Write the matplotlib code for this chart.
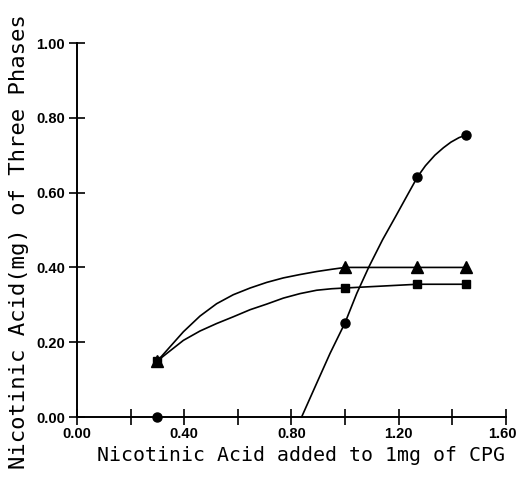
import matplotlib
matplotlib.use("Agg")
import matplotlib.pyplot as plt
from matplotlib.transforms import ScaledTranslation

# measured points (mg nicotinic acid added per 1 mg CPG)
added = [0.30, 1.00, 1.27, 1.45]
phase_circle = [0.00, 0.252, 0.643, 0.754]
phase_triangle = [0.15, 0.40, 0.40, 0.40]
phase_square = [0.15, 0.345, 0.355, 0.355]

# hand-drawn fitted curves
circle_curve_x = [0.838, 0.894, 0.944, 1.00, 1.044, 1.09, 1.14, 1.19, 1.23,
                  1.271, 1.30, 1.335, 1.367, 1.395, 1.425, 1.451]
circle_curve_y = [0.00, 0.09, 0.17, 0.252, 0.331, 0.403, 0.474, 0.538, 0.590,
                  0.643, 0.672, 0.700, 0.720, 0.735, 0.747, 0.754]
triangle_curve_x = [0.30, 0.335, 0.397, 0.459, 0.521, 0.583, 0.646, 0.708, 0.770,
                    0.832, 0.894, 0.95, 1.00, 1.27, 1.45]
triangle_curve_y = [0.150, 0.178, 0.228, 0.270, 0.303, 0.327, 0.345, 0.360, 0.372,
                    0.381, 0.389, 0.395, 0.400, 0.400, 0.400]
square_curve_x = [0.30, 0.335, 0.397, 0.459, 0.521, 0.583, 0.646, 0.708, 0.770,
                  0.832, 0.894, 0.95, 1.00, 1.27, 1.45]
square_curve_y = [0.150, 0.170, 0.205, 0.230, 0.250, 0.268, 0.287, 0.302, 0.318,
                  0.330, 0.339, 0.343, 0.345, 0.355, 0.355]

x_ticks = [0.0, 0.2, 0.4, 0.6, 0.8, 1.0, 1.2, 1.4, 1.6]
x_ticklabels = ["0.00", "", "0.40", "", "0.80", "", "1.20", "", "1.60"]
y_ticks = [0.0, 0.2, 0.4, 0.6, 0.8, 1.0]
y_ticklabels = ["0.00", "0.20", "0.40", "0.60", "0.80", "1.00"]

tick_font = dict(family="Liberation Sans", weight="bold", size=10.5)

fig = plt.figure(figsize=(5.18, 4.83), dpi=100)
ax = fig.add_axes([0.1486, 0.1366, 0.828, 0.7743])

lw = 1.2
ax.plot(circle_curve_x, circle_curve_y, color="k", lw=lw, clip_on=False)
ax.plot(triangle_curve_x, triangle_curve_y, color="k", lw=lw, clip_on=False)
ax.plot(square_curve_x, square_curve_y, color="k", lw=lw, clip_on=False)

ax.plot(added, phase_circle, "o", color="k", ms=6.5, clip_on=False, zorder=5)
ax.plot(added, phase_triangle, "^", color="k", ms=8, clip_on=False, zorder=5)
ax.plot(added, phase_square, "s", color="k", ms=6, clip_on=False, zorder=5)

ax.set_xlim(0, 1.6)
ax.set_ylim(0, 1.0)
ax.spines["top"].set_visible(False)
ax.spines["right"].set_visible(False)
ax.spines["left"].set_linewidth(1.4)
ax.spines["bottom"].set_linewidth(1.4)

ax.set_xticks(x_ticks)
ax.set_xticklabels(x_ticklabels, fontdict=tick_font)
ax.set_yticks(y_ticks)
ax.set_yticklabels(y_ticklabels, fontdict=tick_font)
ax.tick_params(direction="inout", length=11, width=1.2, colors="k")
ax.tick_params(axis="x", pad=2)
ax.tick_params(axis="y", pad=3)

# nudge the last x label in so it stays inside the figure
last = ax.get_xticklabels()[-1]
last.set_transform(last.get_transform() + ScaledTranslation(-4 / 100, 0, fig.dpi_scale_trans))

ax.set_xlabel("Nicotinic Acid added to 1mg of CPG", family="DejaVu Sans Mono",
              fontsize=14.3, labelpad=3, x=0.523)
ax.set_ylabel("Nicotinic Acid(mg) of Three Phases", family="DejaVu Sans Mono",
              fontsize=16, labelpad=5, y=0.47)

fig.savefig("out.png", dpi=100)
